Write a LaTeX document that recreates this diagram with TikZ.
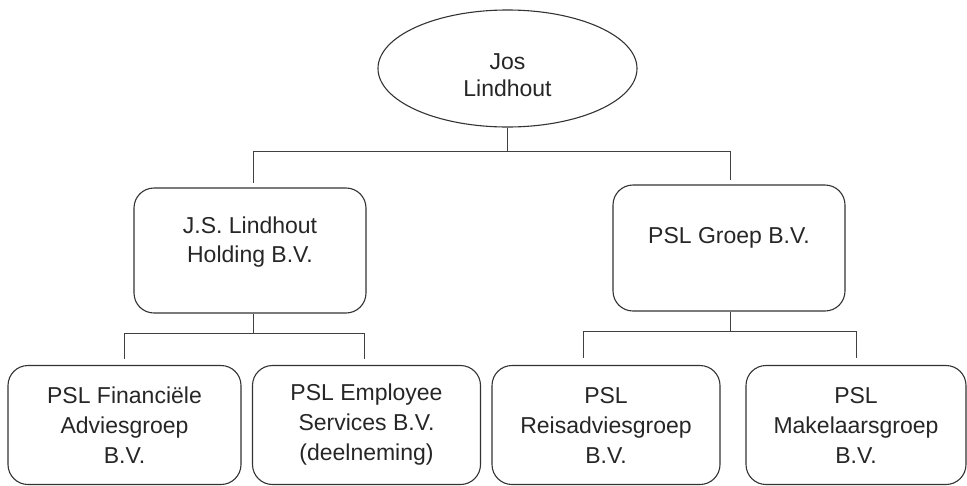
\documentclass[tikz,border=0pt]{standalone}
\usepackage{fontspec}
\setmainfont{Liberation Sans}
\usetikzlibrary{shapes.geometric}
\begin{document}
\begin{tikzpicture}[x=1pt,y=-1pt,
  conn/.style={draw=black!75, line width=1pt},
  orgbox/.style={draw=black!80, line width=1.1pt, rounded corners=20pt, inner sep=0pt},
  leafbox/.style={draw=black!80, line width=1.1pt, rounded corners=20pt, inner sep=0pt, minimum height=119pt,
     align=center, font=\fontsize{23}{30}\selectfont, text=black!85},
  lbl/.style={align=center, font=\fontsize{23}{29}\selectfont, text=black!85, inner sep=0pt},
]
\useasboundingbox (0,0) rectangle (967,485);
% root
\node[draw=black!80, line width=1.1pt, ellipse, minimum width=259pt, minimum height=117pt, inner sep=0pt] (root) at (507.5,68.5) {};
\node[lbl, font=\fontsize{23}{27}\selectfont] (rootl) at (507.5,75) {Jos\\Lindhout};
% middle level
\node[orgbox, minimum width=232pt, minimum height=125pt] (jsh) at (250,250.5) {};
\node[lbl] (jshl) at (250,242) {J.S. Lindhout\\Holding B.V.};
\node[orgbox, minimum width=232pt, minimum height=126pt] (psl) at (729,248) {};
\node[lbl] (psll) at (729,238) {PSL Groep B.V.};
% bottom level
\node[leafbox, minimum width=233pt] (fin) at (124.5,425) {PSL Financiële\\Adviesgroep\\B.V.};
\node[leafbox, minimum width=228pt] (emp) at (366.5,425) {PSL Employee\\Services B.V.\\(deelneming)};
\node[leafbox, minimum width=228pt] (reis) at (606,425) {PSL\\Reisadviesgroep\\B.V.};
\node[leafbox, minimum width=220pt] (mak) at (856,425) {PSL\\Makelaarsgroep\\B.V.};
% connectors: top
\coordinate (tbL) at (253,151);
\coordinate (tbR) at (730,151);
\draw[conn] (root.south) -- (root.south |- tbL);
\draw[conn] (tbL) -- (tbR);
\draw[conn, shorten >=4pt] (tbL) -- (tbL |- jsh.north);
\draw[conn, shorten >=4pt] (tbR) -- (tbR |- psl.north);
% connectors: left group
\coordinate (lbL) at (124,333);
\coordinate (lbR) at (364,333);
\draw[conn] (jsh.south -| tbL) -- (tbL |- lbL);
\draw[conn] (lbL) -- (lbR);
\draw[conn, shorten >=6pt] (lbL) -- (lbL |- fin.north);
\draw[conn, shorten >=6pt] (lbR) -- (lbR |- emp.north);
% connectors: right group
\coordinate (rbL) at (583,331);
\coordinate (rbR) at (856,331);
\draw[conn] (psl.south -| tbR) -- (tbR |- rbL);
\draw[conn] (rbL) -- (rbR);
\draw[conn, shorten >=7pt] (rbL) -- (rbL |- reis.north);
\draw[conn, shorten >=7pt] (rbR) -- (rbR |- mak.north);
\end{tikzpicture}
\end{document}
